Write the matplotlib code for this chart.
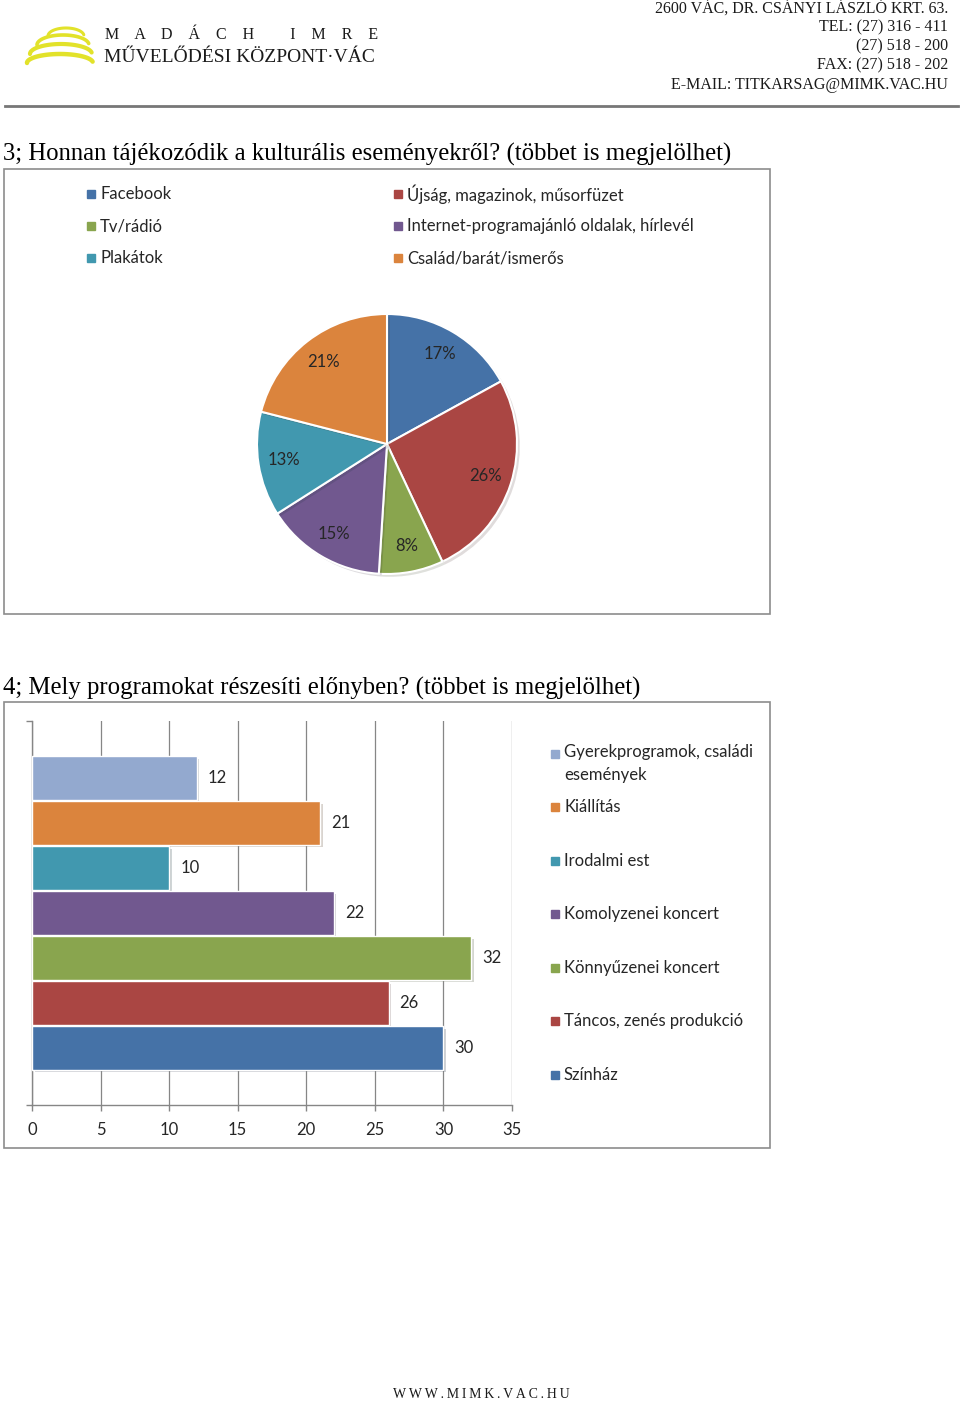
import matplotlib.pyplot as plt
from matplotlib.patches import Rectangle
from matplotlib import patheffects
import numpy as np

W, H = 960, 1403

# 3. kérdés - kördiagram
pie_labels = ["Facebook", "Újság, magazinok, műsorfüzet", "Tv/rádió",
              "Internet-programajánló oldalak, hírlevél", "Plakátok", "Család/barát/ismerős"]
pie_values = [17, 26, 8, 15, 13, 21]
pie_colors = ["#4572A7", "#AA4643", "#89A54E", "#71588F", "#4198AF", "#DB843D"]

# 4. kérdés - sávdiagram (fentről lefelé, mint a jelmagyarázat)
bar_labels = ["Gyerekprogramok, családi\nesemények", "Kiállítás", "Irodalmi est",
              "Komolyzenei koncert", "Könnyűzenei koncert", "Táncos, zenés produkció", "Színház"]
bar_values = [12, 21, 10, 22, 32, 26, 30]
bar_colors = ["#93A9CF", "#DB843D", "#4198AF", "#71588F", "#89A54E", "#AA4643", "#4572A7"]
bar_ticks = [0, 5, 10, 15, 20, 25, 30, 35]

header_lines = ["2600 VÁC, DR. CSÁNYI LÁSZLÓ KRT. 63.", "TEL: (27) 316 - 411",
                "(27) 518 - 200", "FAX: (27) 518 - 202", "E-MAIL: TITKARSAG@MIMK.VAC.HU"]

SANS = ["Lato", "DejaVu Sans"]
SERIF = ["Liberation Serif", "DejaVu Serif"]
TXT = "#262626"
FS = 12


def rect(x0, y0, x1, y1):
    # pixel box (top-left origin) -> figure fraction
    return [x0 / W, 1 - y1 / H, (x1 - x0) / W, (y1 - y0) / H]


fig = plt.figure(figsize=(W / 100, H / 100), dpi=100)
fig.patch.set_facecolor("white")

# page background in pixel coordinates
bg = fig.add_axes([0, 0, 1, 1])
bg.set_xlim(0, W)
bg.set_ylim(H, 0)
bg.axis("off")

# logo swooshes
t = np.linspace(0.15, np.pi, 60)
for cx, cy, rx, ry, lw in [(66, 36, 18, 8, 2.2), (63, 45, 26, 10, 2.6),
                           (61, 54, 31, 10, 3.0), (60, 63, 33, 9, 3.2)]:
    bg.plot(cx + rx * np.cos(t), cy - ry * np.sin(t), color="#E2E22A",
            lw=lw, solid_capstyle="round")
bg.text(105, 35, "    ".join("MADÁCH") + "         " + "    ".join("IMRE"),
        fontsize=11.5, family=SERIF, va="center", ha="left", color="#1a1a1a")
bg.text(104, 57, "MŰVELŐDÉSI KÖZPONT·VÁC", fontsize=14, family=SERIF,
        va="center", ha="left", color="#1a1a1a")
for i, line in enumerate(header_lines):
    bg.text(948, 8 + i * 19.2, line, fontsize=11.5, family=SERIF, ha="right",
            va="center", color="#1a1a1a")
bg.plot([5, 958], [106, 106], color="#777777", lw=2)

# titles
bg.text(3, 154, "3; Honnan tájékozódik a kulturális eseményekről? (többet is megjelölhet)",
        fontsize=17.8, family=SERIF, va="center", ha="left", color="black")
bg.text(3, 688, "4; Mely programokat részesíti előnyben? (többet is megjelölhet)",
        fontsize=17.8, family=SERIF, va="center", ha="left", color="black")

# chart frames
for y0, y1 in [(169, 614), (702, 1148)]:
    bg.add_patch(Rectangle((4, y0), 766, y1 - y0, fill=False, ec="#8C8C8C", lw=1.2))

# footer
bg.text(481, 1395, "\u2009".join("WWW.MIMK.VAC.HU"), fontsize=10, family=SERIF + ["DejaVu Sans"],
        ha="center", va="center", color="#1a1a1a")

# pie legend (2 columns x 3 rows)
for i, (lab, col) in enumerate(zip(pie_labels, pie_colors)):
    x = 87 if i % 2 == 0 else 394
    y = 194 + (i // 2) * 32
    bg.add_patch(Rectangle((x, y - 4), 8, 8, color=col))
    bg.text(x + 13, y, lab, fontsize=FS, family=SANS, va="center", ha="left", color=TXT)

# pie
R = 130
ax_pie = fig.add_axes(rect(387 - R - 2, 444 - R - 2, 387 + R + 2, 444 + R + 2))
wedges, _, autotexts = ax_pie.pie(
    pie_values, colors=pie_colors, startangle=90, counterclock=False,
    autopct=lambda p: f"{p:.0f}%", pctdistance=0.8,
    wedgeprops=dict(edgecolor="white", linewidth=1.5),
    textprops=dict(fontsize=FS, family=SANS, color=TXT))
for w in wedges:
    w.set_path_effects([patheffects.SimplePatchShadow(offset=(2, -2), alpha=0.15),
                        patheffects.Normal()])
lim = (R + 2) / R
ax_pie.set_xlim(-lim, lim)
ax_pie.set_ylim(-lim, lim)
ax_pie.axis("off")

# bar chart
ax = fig.add_axes(rect(32, 721, 512, 1105))
ax.set_facecolor("none")
n = len(bar_values)
ypos = np.arange(n)[::-1]
bars = ax.barh(ypos, bar_values, height=0.96, color=bar_colors, edgecolor="white",
               linewidth=1, zorder=3)
for b in bars:
    b.set_path_effects([patheffects.SimplePatchShadow(offset=(2, -2), alpha=0.2),
                        patheffects.Normal()])
ax.bar_label(bars, padding=8, fontsize=FS, family=SANS, color=TXT)
ax.set_xlim(0, 35)
ax.set_ylim(-1.267, n + 0.267)
ax.set_xticks(bar_ticks)
ax.set_xticklabels([str(v) for v in bar_ticks], fontsize=FS, family=SANS, color=TXT)
ax.set_yticks([-1.267, n + 0.267])
ax.set_yticklabels([])
ax.tick_params(axis="both", direction="out", length=4.5, color="#868686", width=1)
ax.tick_params(axis="x", pad=8)
ax.grid(axis="x", color="#868686", lw=0.9, zorder=0)
for s in ["top", "right"]:
    ax.spines[s].set_visible(False)
for s in ["left", "bottom"]:
    ax.spines[s].set_color("#868686")
    ax.spines[s].set_linewidth(1)

# bar legend
leg_y = [754, 807, 861, 914, 968, 1021, 1075]
for lab, col, y in zip(bar_labels, bar_colors, leg_y):
    bg.add_patch(Rectangle((551, y - 4), 8, 8, color=col))
    if "\n" in lab:
        bg.text(564, y - 10, lab, fontsize=FS, family=SANS, va="top", ha="left",
                color=TXT, linespacing=1.55)
    else:
        bg.text(564, y, lab, fontsize=FS, family=SANS, va="center", ha="left", color=TXT)

fig.savefig("out.png", dpi=100, facecolor="white")
